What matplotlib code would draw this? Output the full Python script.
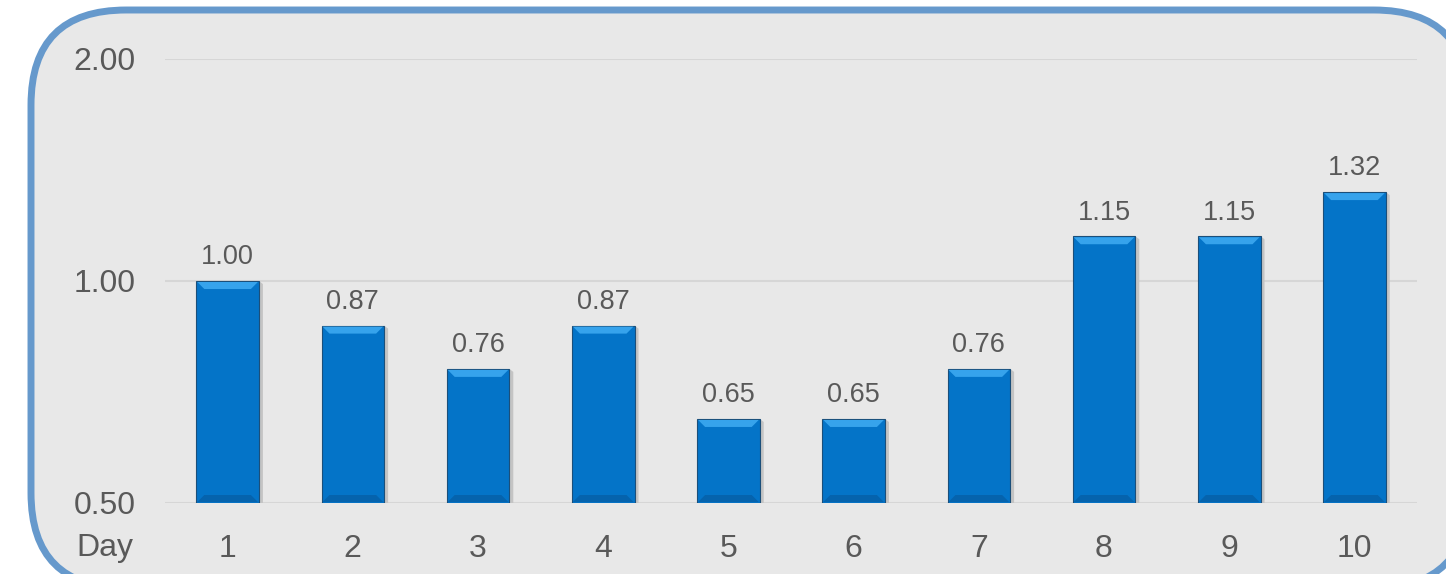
import matplotlib
matplotlib.use("Agg")
import matplotlib.pyplot as plt
import numpy as np
from matplotlib.patches import FancyBboxPatch, Polygon
from matplotlib.transforms import IdentityTransform

plt.rcParams['font.family'] = ['Liberation Sans', 'DejaVu Sans']

days = ['1', '2', '3', '4', '5', '6', '7', '8', '9', '10']
values = [1.00, 0.87, 0.76, 0.87, 0.65, 0.65, 0.76, 1.15, 1.15, 1.32]
y_ticks = [0.5, 1.0, 2.0]
y_tick_labels = ['0.50', '1.00', '2.00']
base = 0.5

text_color = '#595959'
bar_color = '#0474c8'
top_color = '#36a3ec'
bottom_color = '#0563ad'
edge_color = '#1b4f7a'

fig = plt.figure(figsize=(14.46, 5.74), dpi=100)
fig.patch.set_facecolor('white')

# rounded frame behind the chart (pixel coords)
frame = FancyBboxPatch((31, -14), 1438, 578,
                       boxstyle="round,pad=0,rounding_size=95",
                       transform=IdentityTransform(), facecolor='#e8e8e8',
                       edgecolor='#6699cc', linewidth=5.0, zorder=-5)
fig.patches.append(frame)

ax = fig.add_axes([165 / 1446, 71 / 574, 1252 / 1446, 444 / 574])
ax.set_zorder(2)
ax.set_facecolor('none')
ax.set_yscale('log', base=2)
ax.set_ylim(0.5, 2.0)
ax.set_xlim(0.5, 10.5)

x = np.arange(1, len(days) + 1)
heights = [v - base for v in values]
bars = ax.bar(x, heights, width=0.5, bottom=base, color=bar_color,
              edgecolor=edge_color, linewidth=0.8, zorder=3)

ax.set_yticks(y_ticks)
ax.set_yticklabels(y_tick_labels)
ax.yaxis.set_minor_locator(matplotlib.ticker.NullLocator())
ax.set_xticks(x)
ax.set_xticklabels(days)
ax.tick_params(axis='y', length=0, pad=21, labelsize=23, labelcolor=text_color)
ax.tick_params(axis='x', length=0, pad=22, labelsize=23, labelcolor=text_color)
ax.grid(axis='y', color='#d6d6d6', linewidth=1.5, zorder=1)
for s in ax.spines.values():
    s.set_visible(False)

# bevel effect on each bar
b = 8
for rect in bars:
    x0, y0 = ax.transData.transform((rect.get_x(), rect.get_y()))
    x1, y1 = ax.transData.transform((rect.get_x() + rect.get_width(),
                                     rect.get_y() + rect.get_height()))
    # soft shadow
    ax.add_patch(Polygon([(x1, y0 - 1), (x1 + 4, y0 - 3), (x1 + 4, y1 - 3), (x1, y1)],
                         transform=IdentityTransform(), facecolor='#c4c4c4',
                         edgecolor='none', zorder=2))
    ax.add_patch(Polygon([(x0 + 1, y1 - 1), (x1 - 1, y1 - 1), (x1 - b, y1 - b), (x0 + b, y1 - b)],
                         transform=IdentityTransform(), facecolor=top_color,
                         edgecolor='none', zorder=4))
    ax.add_patch(Polygon([(x0 + 1, y0 + 1), (x1 - 1, y0 + 1), (x1 - b, y0 + b), (x0 + b, y0 + b)],
                         transform=IdentityTransform(), facecolor=bottom_color,
                         edgecolor='none', zorder=4))

for xi, v in zip(x, values):
    ax.annotate(f'{v:.2f}', xy=(xi, v), xytext=(0, 17), textcoords='offset points',
                ha='center', va='center', fontsize=19.5, color=text_color, zorder=5)

fig.text(133 / 1446, (574 - 548) / 574, 'Day', ha='right', va='center',
         fontsize=23, color=text_color)

fig.savefig('out.png', dpi=100)
